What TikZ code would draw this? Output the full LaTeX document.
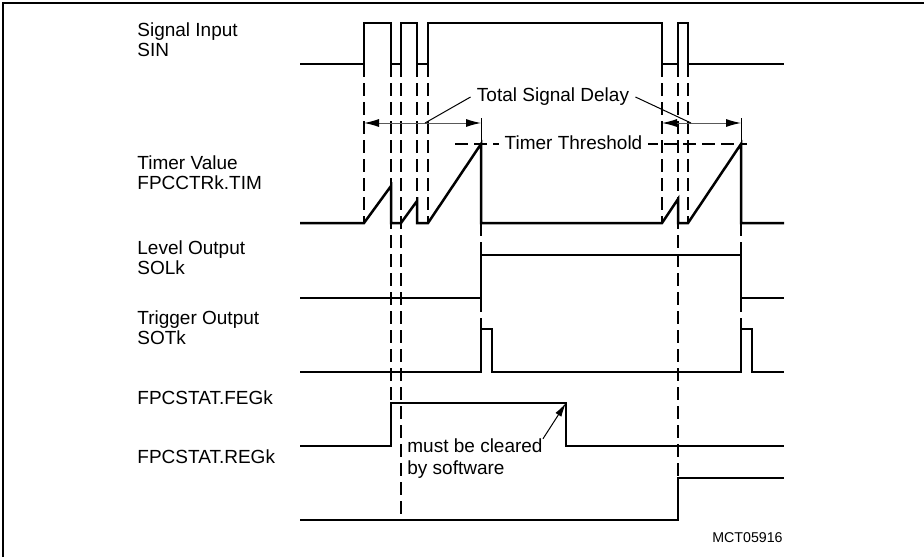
\documentclass[tikz,border=0pt]{standalone}
\usepackage{fontspec}
\setmainfont{Liberation Sans}
\usetikzlibrary{arrows.meta}
\tikzset{
    signal/.style={
        line width=1.25pt,
        black,
        line join=miter
    },
    guide/.style={
        line width=0.7pt,
        black,
        dash pattern=on 6.5pt off 3pt
    },
    delayspan/.style={
        line width=0.5pt,
        black!65,
        {Latex[length=7.5pt,width=4pt,black]}-{Latex[length=7.5pt,width=4pt,black]}
    },
    leader/.style={
        line width=0.5pt,
        black
    },
    signame/.style={
        anchor=west,
        inner sep=0pt,
        align=left,
        font=\fontsize{9.5}{10}\selectfont
    },
    note/.style={
        inner sep=0pt,
        font=\fontsize{9.5}{11}\selectfont
    }
}
\begin{document}
\begin{tikzpicture}[x=0.5pt, y=-0.5pt]
                \useasboundingbox (0,0) rectangle (924,557);
                \draw[line width=0.75pt] (3,557) -- (3,3) -- (924,3);

                \node[signame] (nSIN) at (137,40) {Signal Input\\SIN};
                \node[signame] (nTIM) at (137,173) {Timer Value\\FPCCTRk.TIM};
                \node[signame] (nSOL) at (137,258) {Level Output\\SOLk};
                \node[signame] (nSOT) at (137,328) {Trigger Output\\SOTk};
                \node[signame] (nFEG) at (137,398) {FPCSTAT.FEGk};
                \node[signame] (nREG) at (137,457) {FPCSTAT.REGk};

                \coordinate (d1a) at (364,123);
                \coordinate (d1b) at (481,123);
                \coordinate (d2a) at (662,123);
                \coordinate (d2b) at (741,123);
                \coordinate (dlyL) at (425,123);
                \coordinate (dlyR) at (691,123);
                \coordinate (fegoff) at (566,403);

                \foreach \x/\ya/\yb in {364/64/223, 391/64/403, 401/64/520, 417/64/201, 428/64/223,
                                        481/223/329, 662/64/223, 678/64/478, 688/64/223, 741/223/329}
                    \draw[guide] (\x,\ya) -- (\x,\yb);
                \draw[guide] (455,144) -- (747,144);
                \draw[leader] (481,118) -- (481,144);
                \draw[leader] (741,118) -- (741,144);

                \draw[signal] (300,64) -| (364,23) -| (391,64) -| (401,23) -| (417,64) -| (428,23)
                    -| (662,64) -| (678,23) -| (688,64) -- (784,64);
                \draw[signal] (300,223) -- (364,223) -- (391,186) |- (401,223) -- (417,201) |- (428,223)
                    -- (481,144) |- (662,223) -- (678,199) |- (688,223) -- (741,144) |- (784,223);
                \draw[signal] (300,298) -| (481,255) -| (741,298) -- (784,298);
                \draw[signal] (300,372) -| (481,329) -| (492,372) -| (741,329) -| (752,372) -- (784,372);
                \draw[signal] (300,446) -| (391,403) -| (fegoff) -- (566,446) -- (784,446);
                \draw[signal] (300,520) -| (678,478) -- (784,478);

                \draw[delayspan] (d1a) -- (d1b);
                \draw[delayspan] (d2a) -- (d2b);

                \node[note, inner xsep=3pt] (dly) at (553,97) {Total Signal Delay};
                \draw[leader] (dly.west) -- (dlyL);
                \draw[leader] (dly.east) -- (dlyR);

                \node[note, fill=white, inner xsep=3pt, inner ysep=1pt] (thr) at (573.5,143) {Timer Threshold};

                \node[note, anchor=west, align=left] (clr) at (407,459) {must be cleared\\by software};
                \draw[leader, -{Latex[length=7pt,width=3.5pt]}] (clr.north east) -- (fegoff);

                \node[inner sep=0pt, anchor=east, font=\fontsize{7.1}{8}\selectfont] (mct) at (783,538) {MCT05916};
            \end{tikzpicture}
\end{document}
